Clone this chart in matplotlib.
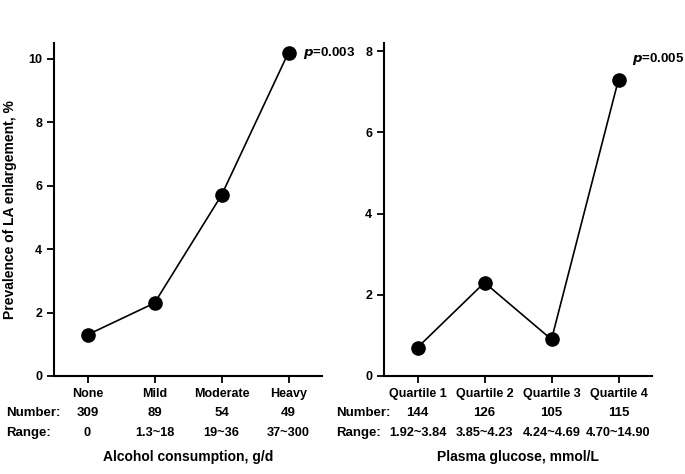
import matplotlib
matplotlib.use("Agg")
import matplotlib.pyplot as plt

plt.rcParams['font.family'] = ['Liberation Sans', 'DejaVu Sans']
plt.rcParams['font.weight'] = 'bold'

# Left panel data
alc_cats = ["None", "Mild", "Moderate", "Heavy"]
alc_values = [1.3, 2.3, 5.7, 10.2]
alc_numbers = ["309", "89", "54", "49"]
alc_ranges = ["0", "1.3~18", "19~36", "37~300"]
alc_p = "0.003"

# Right panel data
glu_cats = ["Quartile 1", "Quartile 2", "Quartile 3", "Quartile 4"]
glu_values = [0.7, 2.3, 0.9, 7.3]
glu_numbers = ["144", "126", "105", "115"]
glu_ranges = ["1.92~3.84", "3.85~4.23", "4.24~4.69", "4.70~14.90"]
glu_p = "0.005"

fig = plt.figure(figsize=(6.85, 4.74), dpi=100)
ax1 = fig.add_axes([54/685, 1-376/474, 268/685, 333/474])
ax2 = fig.add_axes([384/685, 1-376/474, 268/685, 333/474])

def draw(ax, cats, vals, nums, rngs, ylim, yticks, xlabel, ptxt, pxy):
    x = list(range(len(cats)))
    ax.plot(x, vals, color='black', lw=1.2, marker='o', ms=9.5, mfc='black', mec='black', zorder=3, clip_on=False)
    ax.set_xlim(-0.5, 3.5)
    ax.set_ylim(*ylim)
    ax.set_yticks(yticks)
    ax.set_xticks(x)
    ax.set_xticklabels(cats, fontsize=9, fontweight='bold')
    ax.tick_params(axis='both', direction='out', length=5, width=1.3, labelsize=9, pad=3.5)
    for lab in ax.get_yticklabels():
        lab.set_fontweight('bold')
    ax.spines['top'].set_visible(False)
    ax.spines['right'].set_visible(False)
    for s in ['left', 'bottom']:
        ax.spines[s].set_linewidth(1.5)
    tr = ax.get_xaxis_transform()
    ax.text(-1.22, -0.111, "Number:", transform=tr, ha='left', va='center', fontsize=9.5, fontweight='bold')
    ax.text(-1.22, -0.171, "Range:", transform=tr, ha='left', va='center', fontsize=9.5, fontweight='bold')
    for xi, n, r in zip(x, nums, rngs):
        ax.text(xi, -0.111, n, transform=tr, ha='center', va='center', fontsize=9.5, fontweight='bold')
        ax.text(xi, -0.171, r, transform=tr, ha='center', va='center', fontsize=9.2, fontweight='bold')
    ax.text(1.5, -0.243, xlabel, transform=tr, ha='center', va='center', fontsize=10, fontweight='bold')
    ax.text(pxy[0], pxy[1], r"$\mathbf{\mathit{p}}$=" + ptxt, ha='left', va='center', fontsize=9.5, fontweight='bold')

draw(ax1, alc_cats, alc_values, alc_numbers, alc_ranges, (0, 10.5), [0, 2, 4, 6, 8, 10],
     "Alcohol consumption, g/d", alc_p, (3.22, alc_values[3]))
draw(ax2, glu_cats, glu_values, glu_numbers, glu_ranges, (0, 8.2), [0, 2, 4, 6, 8],
     "Plasma glucose, mmol/L", glu_p, (3.2, 7.8))

ax1.set_ylabel("Prevalence of LA enlargement, %", fontsize=10, fontweight='bold', labelpad=8)

fig.savefig("out.png", dpi=100)
